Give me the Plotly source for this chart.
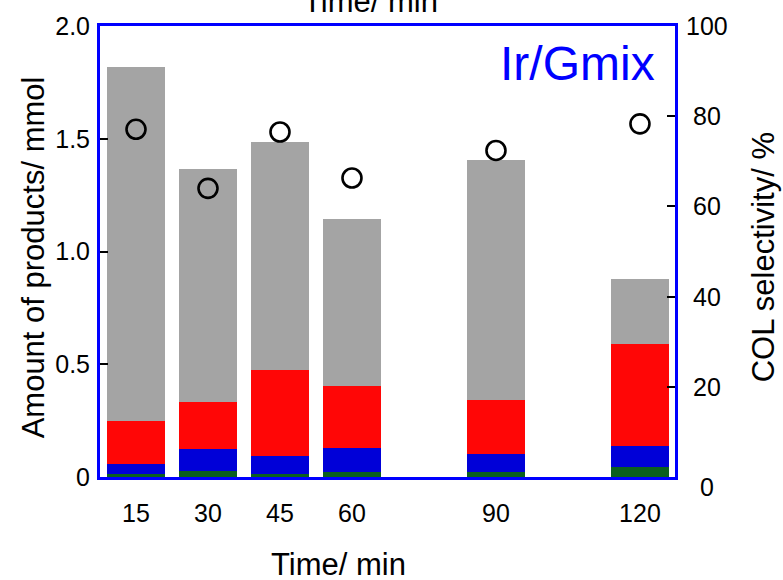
import plotly.graph_objects as go

times = [15, 30, 45, 60, 90, 120]
time_labels = ["15", "30", "45", "60", "90", "120"]
# stacked components (mmol)
green = [0.015, 0.026, 0.015, 0.023, 0.023, 0.044]
blue = [0.043, 0.097, 0.079, 0.106, 0.079, 0.093]
red = [0.192, 0.210, 0.380, 0.275, 0.240, 0.455]
gray = [1.566, 1.035, 1.013, 0.741, 1.062, 0.285]
col_sel = [77.1, 64.0, 76.5, 66.3, 72.4, 78.3]

left_ticks = [0, 0.5, 1.0, 1.5, 2.0]
left_ticktext = ["0", "0.5", "1.0", "1.5", "2.0"]
right_ticks = [0, 20, 40, 60, 80, 100]
right_ticktext = ["0", "20", "40", "60", "80", "100"]

FONT = "Liberation Sans, Arial, sans-serif"
AXBLUE = "#0000ff"
TICK = 25
TITLE = 31

fig = go.Figure()
for vals, col in [(green, "#0a5f1e"), (blue, "#0000d8"), (red, "#ff0606"), (gray, "#a4a4a4")]:
    fig.add_trace(go.Bar(x=times, y=vals, width=12, marker=dict(color=col, line=dict(width=0)),
                         showlegend=False, yaxis="y"))

fig.add_trace(go.Scatter(x=times, y=col_sel, mode="markers", yaxis="y2", showlegend=False,
                         marker=dict(symbol="circle-open", size=19, color="black",
                                     line=dict(color="black", width=2.6))))

fig.update_layout(
    width=783, height=580,
    margin=dict(l=100, r=108, t=21, b=103),
    paper_bgcolor="white", plot_bgcolor="white",
    barmode="stack", bargap=0,
    font=dict(family=FONT, size=TICK, color="black"),
    xaxis=dict(range=[7.5, 127.3], tickvals=times, ticktext=time_labels, ticks="",
               showline=True, linecolor=AXBLUE, linewidth=3, mirror=True,
               showgrid=False, zeroline=False, ticklabelstandoff=12,
               tickfont=dict(size=TICK)),
    yaxis=dict(range=[0, 2.0], tickvals=left_ticks, ticktext=left_ticktext,
               ticks="inside", ticklen=8, tickwidth=2, tickcolor="black",
               showline=True, linecolor=AXBLUE, linewidth=3, mirror=True,
               showgrid=False, zeroline=False, ticklabelstandoff=2,
               tickfont=dict(size=TICK)),
    yaxis2=dict(range=[0, 100], overlaying="y", side="right", tickvals=[20, 40, 60, 80],
                ticks="inside", ticklen=8, tickwidth=2, tickcolor="black",
                showticklabels=False, showline=False, showgrid=False, zeroline=False),
)

ann = []
for v, t in zip(right_ticks, right_ticktext):
    ann.append(dict(text=t, xref="paper", yref="y2", x=1, y=v, xshift=32,
                    yshift=(-10 if v == 0 else 0), xanchor="center", yanchor="middle",
                    showarrow=False, font=dict(size=TICK, color="black")))
ann += [
    dict(text="Ir/Gmix", xref="paper", yref="paper", x=1, y=1, xshift=-18, yshift=-37,
         xanchor="right", yanchor="middle", showarrow=False,
         font=dict(size=48, color=AXBLUE)),
    dict(text="Time/ min", xref="paper", yref="paper", x=0.414, y=0, yshift=-87,
         xanchor="center", yanchor="middle", showarrow=False, font=dict(size=TITLE)),
    dict(text="Time/ min", xref="paper", yref="paper", x=0.47, y=1, yshift=5,
         xanchor="center", yanchor="bottom", showarrow=False, font=dict(size=TITLE)),
    dict(text="Amount of products/ mmol", xref="paper", yref="paper", x=0, y=0.487,
         xshift=-67, xanchor="center", yanchor="middle", textangle=-90,
         showarrow=False, font=dict(size=TITLE)),
    dict(text="COL selectivity/ %", xref="paper", yref="paper", x=1, y=0.487,
         xshift=88, xanchor="center", yanchor="middle", textangle=-90,
         showarrow=False, font=dict(size=TITLE)),
]
fig.update_layout(annotations=ann)

fig.write_html("out.html")
